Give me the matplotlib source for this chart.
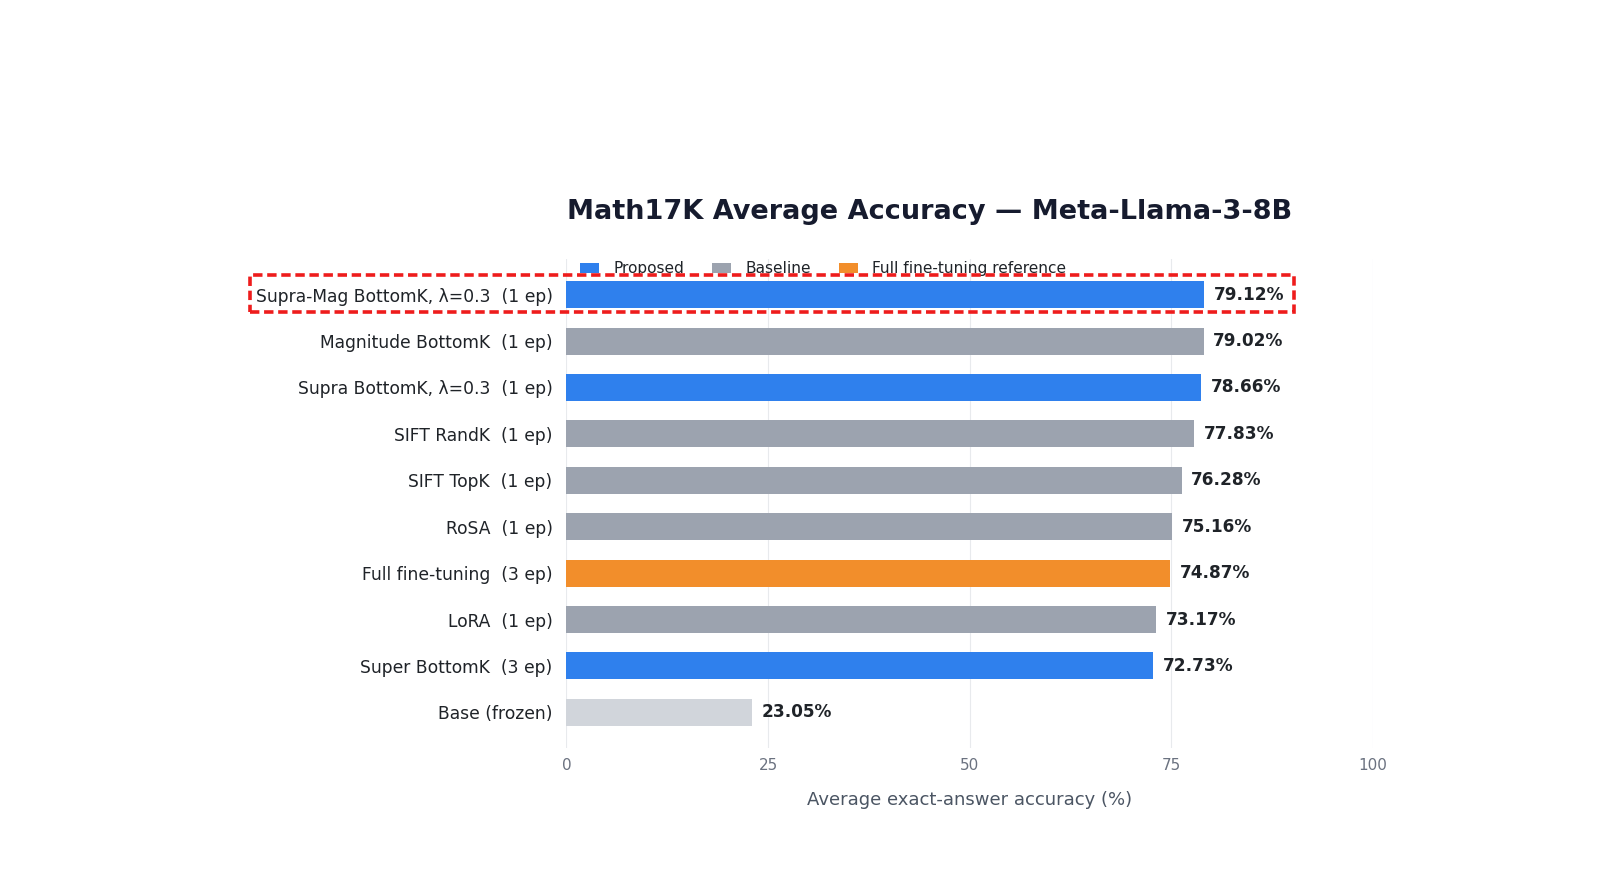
import matplotlib
matplotlib.use("Agg")
import matplotlib.pyplot as plt
from matplotlib.patches import Rectangle, Patch

labels = [
    "Supra-Mag BottomK, λ=0.3  (1 ep)",
    "Magnitude BottomK  (1 ep)",
    "Supra BottomK, λ=0.3  (1 ep)",
    "SIFT RandK  (1 ep)",
    "SIFT TopK  (1 ep)",
    "RoSA  (1 ep)",
    "Full fine-tuning  (3 ep)",
    "LoRA  (1 ep)",
    "Super BottomK  (3 ep)",
    "Base (frozen)",
]
values = [79.12, 79.02, 78.66, 77.83, 76.28, 75.16, 74.87, 73.17, 72.73, 23.05]
groups = ["proposed", "baseline", "proposed", "baseline", "baseline",
          "baseline", "full", "baseline", "proposed", "base"]
xticks = [0, 25, 50, 75, 100]
legend_names = ["Proposed", "Baseline", "Full fine-tuning reference"]

colors = {"proposed": "#2F80ED", "baseline": "#9CA3AF",
          "full": "#F28E2B", "base": "#D1D5DB"}

plt.rcParams["font.family"] = ["DejaVu Sans"]

fig = plt.figure(figsize=(16, 8.89), dpi=100)
ax = fig.add_axes([0.354, 0.1586, 0.504, 0.5501])

ypos = list(range(len(labels)))
ax.barh(ypos, values, height=0.58, color=[colors[g] for g in groups], zorder=2)
ax.invert_yaxis()
ax.set_yticks(ypos)
ax.set_yticklabels(labels, fontsize=12.3, color="#1f2328")
ax.set_xlim(0, 100)
ax.set_xticks(xticks)
ax.set_xticklabels([str(t) for t in xticks], fontsize=11, color="#6b7280")
ax.tick_params(axis="y", length=0, pad=10)
ax.tick_params(axis="x", length=0, pad=7)
ax.grid(axis="x", color="#e8eaed", linewidth=0.8, zorder=0)
ax.grid(axis="y", visible=False)
for s in ax.spines.values():
    s.set_visible(False)

for y, v in zip(ypos, values):
    ax.annotate(f"{v:.2f}%", xy=(v, y), xytext=(7, 0), textcoords="offset points",
                ha="left", va="center", fontsize=12.2, fontweight="bold",
                color="#1f2328")

ax.set_xlabel("Average exact-answer accuracy (%)", fontsize=13,
              color="#4b5563", labelpad=13)

handles = [Patch(facecolor=colors[k]) for k in ["proposed", "baseline", "full"]]
ax.legend(handles, legend_names, loc="center left", bbox_to_anchor=(0.009, 0.98),
          borderaxespad=0, ncol=3, frameon=False, fontsize=11.1,
          handlelength=1.27, handleheight=0.65, handletextpad=0.9,
          columnspacing=1.8, labelcolor="#1f2328")

fig.text(0.581, 0.762, "Math17K Average Accuracy — Meta-Llama-3-8B",
         ha="center", va="center", fontsize=19.5, fontweight="bold",
         color="#161b2e")

rect = Rectangle((0.156, 0.649), 0.809 - 0.156, 0.691 - 0.649,
                 transform=fig.transFigure, fill=False, edgecolor="#ee1c1c",
                 linewidth=2.6, linestyle=(0, (2.6, 1.3)), zorder=10)
fig.patches.append(rect)

fig.savefig("out.png", dpi=100, facecolor="white")
